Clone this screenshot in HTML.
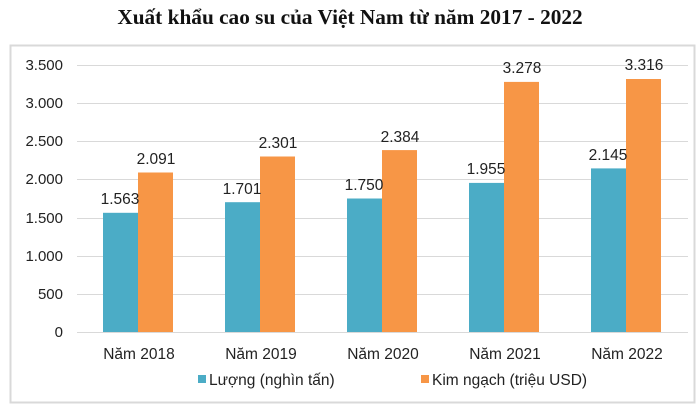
<!DOCTYPE html>
<html><head><meta charset="utf-8"><style>
body{margin:0;background:#fff;width:700px;height:411px;overflow:hidden}
</style></head><body>
<svg width="700" height="411" xmlns="http://www.w3.org/2000/svg" font-family="Liberation Sans, Arial, sans-serif">
<text x="350" y="24" text-anchor="middle" font-family="Liberation Serif, serif" font-weight="bold" font-size="21.3" fill="#111">Xuất khẩu cao su của Việt Nam từ năm 2017 - 2022</text>
<rect x="10.5" y="45.5" width="684" height="357" fill="none" stroke="#d9d9d9" stroke-width="2"/>
<g stroke="#d9d9d9" stroke-width="1">
<line x1="77" x2="688" y1="65.5" y2="65.5"/><line x1="77" x2="688" y1="103.5" y2="103.5"/>
<line x1="77" x2="688" y1="141.5" y2="141.5"/><line x1="77" x2="688" y1="179.5" y2="179.5"/>
<line x1="77" x2="688" y1="218.5" y2="218.5"/><line x1="77" x2="688" y1="256.5" y2="256.5"/>
<line x1="77" x2="688" y1="294.5" y2="294.5"/>
</g>
<g font-size="15" fill="#222" text-anchor="end">
<text x="63" y="70">3.500</text><text x="63" y="108">3.000</text><text x="63" y="146">2.500</text>
<text x="63" y="184">2.000</text><text x="63" y="223">1.500</text><text x="63" y="261">1.000</text>
<text x="63" y="299">500</text><text x="63" y="337">0</text>
</g>
<g fill="#4bacc6">
<rect x="103" y="212.8" width="35" height="119.2"/>
<rect x="225" y="202.2" width="35" height="129.8"/>
<rect x="347" y="198.5" width="35" height="133.5"/>
<rect x="469" y="182.9" width="35" height="149.1"/>
<rect x="591" y="168.4" width="35" height="163.6"/>
</g>
<g fill="#f79646">
<rect x="138" y="172.5" width="35" height="159.5"/>
<rect x="260" y="156.5" width="35" height="175.5"/>
<rect x="382" y="150.1" width="35" height="181.9"/>
<rect x="504" y="81.9" width="35" height="250.1"/>
<rect x="626" y="79" width="35" height="253"/>
</g>
<line x1="77" x2="688" y1="332.5" y2="332.5" stroke="#d9d9d9"/>
<g font-size="15.5" fill="#222" text-anchor="middle">
<text x="120" y="204">1.563</text><text x="156" y="164">2.091</text>
<text x="242" y="194">1.701</text><text x="278" y="148">2.301</text>
<text x="364" y="190">1.750</text><text x="400" y="142">2.384</text>
<text x="486" y="174">1.955</text><text x="522" y="73">3.278</text>
<text x="608" y="160">2.145</text><text x="644" y="70">3.316</text>
<text x="139" y="359">Năm 2018</text><text x="261" y="359">Năm 2019</text>
<text x="383" y="359">Năm 2020</text><text x="505" y="359">Năm 2021</text>
<text x="627" y="359">Năm 2022</text>
</g>
<rect x="198" y="375" width="8" height="8" fill="#4bacc6"/>
<text x="209" y="385" font-size="15.5" fill="#222">Lượng (nghìn tấn)</text>
<rect x="421" y="375" width="8" height="8" fill="#f79646"/>
<text x="432" y="385" font-size="15.5" fill="#222">Kim ngạch (triệu USD)</text>
</svg>
</body></html>
